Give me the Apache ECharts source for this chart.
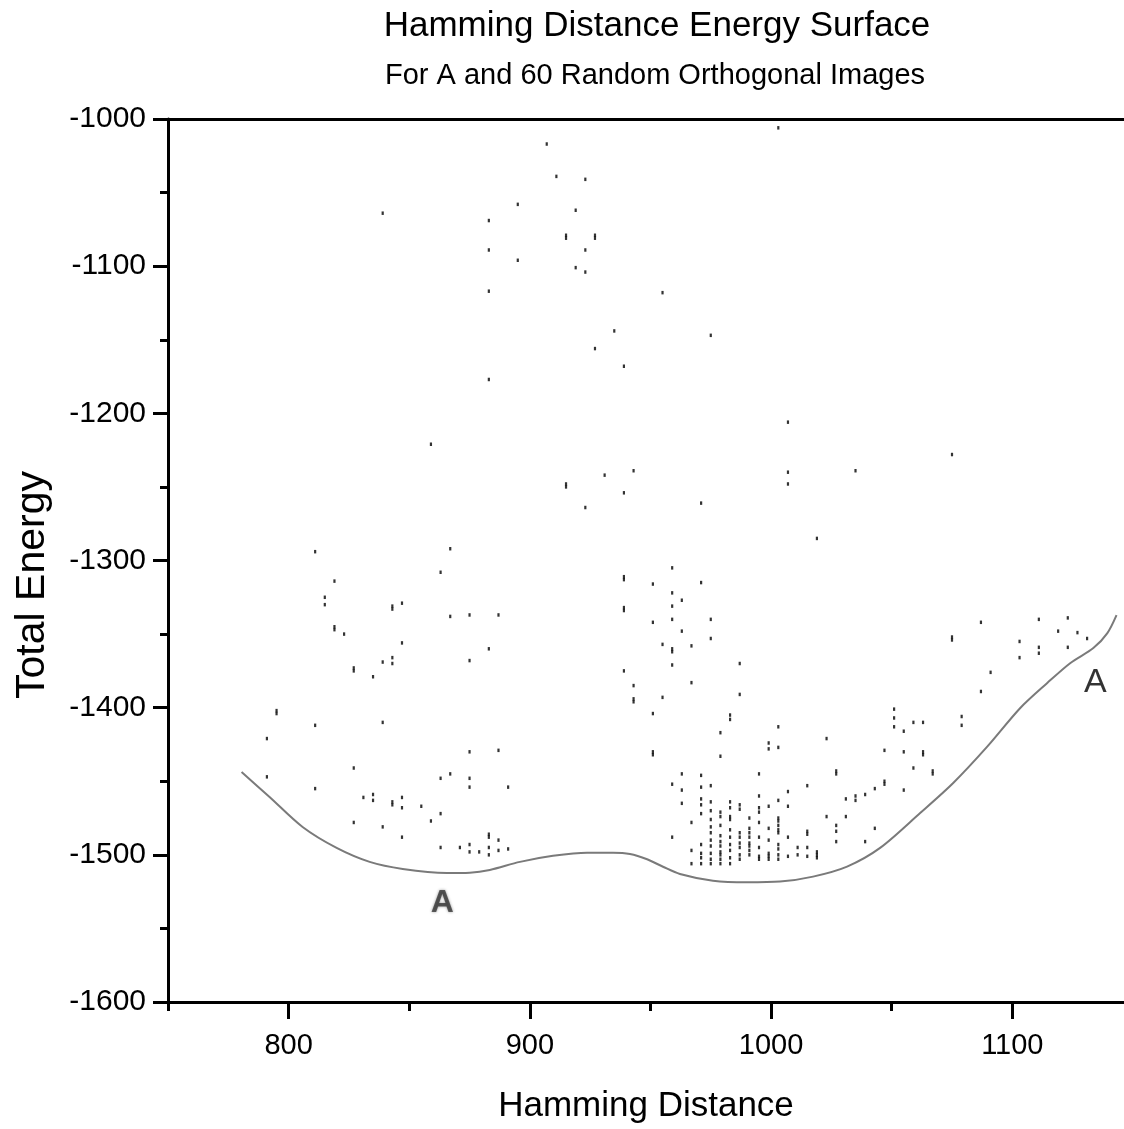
<!DOCTYPE html>
<html>
<head>
<meta charset="utf-8">
<script src="https://cdn.jsdelivr.net/npm/echarts@6/dist/echarts.min.js"></script>
<style>
html,body{margin:0;padding:0;background:#fff;overflow:hidden;}
#chart{width:1124px;height:1129px;}
</style>
</head>
<body>
<div id="chart"></div>
<script>
// ---- data ----
const titleText = 'Hamming Distance Energy Surface';
const subtitleText = 'For A and 60 Random Orthogonal Images';
const xAxisName = 'Hamming Distance';
const yAxisName = 'Total Energy';
const xTickLabels = [800, 900, 1000, 1100];
const xMinorTicks = [750, 850, 950, 1050];
const yTickLabels = [-1600, -1500, -1400, -1300, -1200, -1100, -1000];

const upperPoints = [
  [907,-1017],[911,-1039],[923,-1041],[895,-1058],[919,-1062],[839,-1064],[883,-1069],
  [915,-1079],[915,-1081],[927,-1079],[927,-1081],[883,-1089],[923,-1089],[895,-1096],
  [919,-1101],[923,-1104],[883,-1117],[935,-1144],[927,-1156],[883,-1177],[859,-1221],
  [915,-1248],[915,-1250],[931,-1242],[923,-1264],
  [1003,-1006],[955,-1118],[975,-1147],[939,-1168],[1007,-1206],[1075,-1228],[943,-1239],
  [1007,-1240],[1035,-1239],[1007,-1248],[939,-1254],[971,-1261]
];

const leftPoints = [
  [811,-1294],[867,-1292],[819,-1314],[863,-1308],[815,-1325],[815,-1330],[843,-1331],
  [843,-1333],[847,-1329],[867,-1338],[875,-1337],[887,-1337],[819,-1345],[819,-1347],
  [823,-1350],[847,-1356],[883,-1360],[827,-1373],[827,-1375],[835,-1379],[839,-1369],
  [843,-1366],[843,-1370],[875,-1368],[795,-1402],[795,-1404],[811,-1412],[839,-1410],
  [791,-1421],[875,-1430],[887,-1429],[827,-1441],[791,-1447],[863,-1448],[867,-1445],
  [875,-1448],[811,-1455],[875,-1454],[891,-1454],[831,-1461],[835,-1459],[835,-1463],
  [843,-1464],[843,-1466],[847,-1461],[847,-1468],[855,-1467],[863,-1472],[859,-1477],
  [827,-1478],[839,-1481],[847,-1488],[883,-1486],[883,-1488],[887,-1490],[863,-1495],
  [871,-1495],[875,-1493],[875,-1498],[879,-1498],[883,-1495],[883,-1500],[887,-1497],
  [891,-1496]
];

const rightPoints = [
  [1019,-1285],[939,-1311],[939,-1313],[959,-1305],[951,-1316],[971,-1315],[959,-1322],
  [963,-1327],[939,-1332],[939,-1334],[959,-1331],[959,-1340],[975,-1340],[951,-1342],
  [963,-1348],[975,-1353],[955,-1357],[959,-1360],[959,-1362],[967,-1358],[987,-1370],
  [959,-1371],[939,-1375],[943,-1385],[967,-1383],[943,-1394],[943,-1396],[955,-1393],
  [987,-1391],[951,-1404],[983,-1405],[983,-1408],[979,-1417],[1003,-1413],[999,-1424],
  [999,-1428],[1003,-1427],[1023,-1421],[951,-1430],[951,-1432],[979,-1433],
  [1051,-1401],[1051,-1407],[1051,-1413],[1055,-1416],[1059,-1410],[1063,-1410],
  [1075,-1352],[1075,-1354],[1087,-1342],[1091,-1376],[1087,-1389],[1079,-1406],
  [1079,-1412],[1103,-1355],[1103,-1366],[1111,-1340],[1111,-1359],[1111,-1363],
  [1119,-1348],[1123,-1339],[1123,-1359],[1127,-1349],[1131,-1353],
  [1047,-1429],[1055,-1430],[1063,-1430],[1063,-1432],[1059,-1441],[1067,-1443],
  [1067,-1445],[1047,-1450],[1047,-1452],[1055,-1456]
];

const clusterPoints = [
  [959,-1452],[959,-1488],
  [963,-1445],[963,-1456],[963,-1465],
  [967,-1478],[967,-1497],[967,-1506],
  [971,-1446],[971,-1454],[971,-1462],[971,-1466],[971,-1472],[971,-1493],[971,-1499],[971,-1502],[971,-1506],
  [975,-1453],[975,-1464],[975,-1470],[975,-1476],[975,-1481],[975,-1485],[975,-1490],[975,-1494],[975,-1499],[975,-1503],[975,-1506],
  [979,-1471],[979,-1474],[979,-1480],[979,-1487],[979,-1491],[979,-1494],[979,-1498],[979,-1500],[979,-1503],[979,-1506],
  [983,-1464],[983,-1468],[983,-1474],[983,-1476],[983,-1483],[983,-1488],[983,-1493],[983,-1497],[983,-1502],[983,-1506],
  [987,-1466],[987,-1469],[987,-1485],[987,-1488],[987,-1492],[987,-1495],[987,-1500],[987,-1503],
  [991,-1475],[991,-1482],[991,-1485],[991,-1488],[991,-1492],[991,-1494],[991,-1497],[991,-1500],
  [995,-1445],[995,-1460],[995,-1468],[995,-1471],[995,-1478],[995,-1488],[995,-1495],[995,-1501],[995,-1503],
  [999,-1467],[999,-1482],[999,-1490],[999,-1499],[999,-1501],[999,-1503],
  [1003,-1463],[1003,-1475],[1003,-1477],[1003,-1480],[1003,-1483],[1003,-1485],[1003,-1493],[1003,-1496],[1003,-1500],[1003,-1503],
  [1007,-1457],[1007,-1467],[1007,-1488],[1007,-1501],
  [1011,-1495],[1011,-1500],
  [1015,-1453],[1015,-1484],[1015,-1486],[1015,-1495],[1015,-1501],
  [1019,-1498],[1019,-1500],[1019,-1502],
  [1023,-1474],
  [1027,-1443],[1027,-1445],[1027,-1480],[1027,-1484],[1027,-1491],
  [1031,-1462],[1031,-1474],
  [1035,-1460],[1035,-1463],
  [1039,-1459],[1039,-1491],
  [1043,-1455],[1043,-1482]
];

const curveHamming = [780.5, 792.1, 805.8, 819.9, 833.6, 847.3, 865.6, 875.1, 883.4, 895.9, 909.6,
  923.7, 934.5, 941.5, 948.6, 955.2, 962.2, 975.9, 990, 1003.7, 1017.4, 1031.5, 1045.2, 1061.8,
  1075.5, 1089.6, 1103.3, 1114.5, 1124.1, 1133.6, 1139.4, 1143.2];
const curveEnergy = [-1443.7, -1460.7, -1481.1, -1495.3, -1504.8, -1509.6, -1512.3, -1512.1, -1510.3,
  -1504.8, -1500.7, -1498.5, -1498.5, -1499.4, -1503, -1508.1, -1513, -1517.6, -1518.7, -1518.2,
  -1514.8, -1508, -1495.3, -1471.6, -1451.2, -1426.5, -1400.2, -1383.2, -1369.6, -1359.5, -1349.3, -1337.1];

const markerLabels = ['A', 'A'];
const markerHamming = [1134.4, 863.7];
const markerEnergy = [-1383.2, -1532.7];

// ---- chart ----
const FONT = '"Liberation Sans", Arial, sans-serif';
const chart = echarts.init(document.getElementById('chart'), null, {renderer: 'canvas', width: 1124, height: 1129});
const allPoints = upperPoints.concat(leftPoints, rightPoints, clusterPoints);
const curveData = curveHamming.map((x, i) => [x, curveEnergy[i]]);
const plain = v => String(v);

const option = {
  animation: false,
  backgroundColor: '#ffffff',
  textStyle: {fontFamily: FONT, color: '#000'},
  graphic: [
    {type: 'text', x: 657, y: 26, style: {text: titleText, textAlign: 'center', textVerticalAlign: 'middle',
      fontFamily: FONT, fontSize: 35, fill: '#000'}},
    {type: 'text', x: 655, y: 76, style: {text: subtitleText, textAlign: 'center', textVerticalAlign: 'middle',
      fontFamily: FONT, fontSize: 29, fill: '#000'}},
    {type: 'text', x: 33, y: 585, rotation: Math.PI / 2, style: {text: yAxisName, textAlign: 'center',
      textVerticalAlign: 'middle', fontFamily: FONT, fontSize: 41, fill: '#000'}}
  ],
  grid: {left: 168, right: 0, top: 119, bottom: 127, containLabel: false},
  xAxis: [
    {
      type: 'value', min: 750, max: 1146.3, position: 'bottom', offset: 0,
      name: xAxisName, nameLocation: 'middle', nameGap: 87,
      nameTextStyle: {fontFamily: FONT, fontSize: 35, color: '#000'},
      axisLine: {show: true, onZero: false, lineStyle: {color: '#000', width: 3}},
      axisTick: {show: true, customValues: xTickLabels, length: 17, lineStyle: {color: '#000', width: 3}},
      axisLabel: {show: true, customValues: xTickLabels, formatter: plain, margin: 29,
        fontFamily: FONT, fontSize: 29, color: '#000'},
      splitLine: {show: false}
    },
    {
      type: 'value', min: 750, max: 1146.3, position: 'bottom', offset: 0,
      axisLine: {show: false, onZero: false},
      axisTick: {show: true, customValues: xMinorTicks, length: 9, lineStyle: {color: '#000', width: 3}},
      axisLabel: {show: false},
      splitLine: {show: false}
    },
    {
      type: 'value', min: 750, max: 1146.3, position: 'top', offset: 0,
      axisLine: {show: true, onZero: false, lineStyle: {color: '#000', width: 3}},
      axisTick: {show: false}, axisLabel: {show: false}, splitLine: {show: false}
    }
  ],
  yAxis: [
    {
      type: 'value', min: -1600, max: -1000, interval: 100, position: 'left',
      axisLine: {show: true, onZero: false, lineStyle: {color: '#000', width: 3}},
      axisTick: {show: true, length: 15, lineStyle: {color: '#000', width: 3}},
      minorTick: {show: true, splitNumber: 2, length: 8, lineStyle: {color: '#000', width: 3}},
      axisLabel: {show: true, customValues: yTickLabels, formatter: plain, margin: 22,
        fontFamily: FONT, fontSize: 30, color: '#000'},
      splitLine: {show: false}, minorSplitLine: {show: false}
    }
  ],
  series: [
    {
      name: 'Energy Surface', type: 'line', xAxisIndex: 0, yAxisIndex: 0,
      data: curveData, smooth: 0.3, showSymbol: false, symbol: 'none',
      lineStyle: {color: '#7a7a7a', width: 2}, z: 2
    },
    {
      name: 'Images', type: 'scatter', xAxisIndex: 0, yAxisIndex: 0,
      data: allPoints, symbol: 'rect', symbolSize: [2.2, 3.5],
      itemStyle: {color: '#000'}, z: 3
    },
    {
      name: 'Labels', type: 'scatter', xAxisIndex: 0, yAxisIndex: 0,
      symbolSize: 0, silent: true, z: 4,
      data: markerLabels.map((t, i) => ({
        name: t, value: [markerHamming[i], markerEnergy[i]],
        label: i === 0
          ? {show: true, position: 'inside', formatter: '{b}', fontFamily: FONT, fontSize: 34, color: '#000'}
          : {show: true, position: 'inside', formatter: '{b}', fontFamily: FONT, fontSize: 32, fontWeight: 'bold',
             color: 'rgba(20,20,20,0.8)', textShadowColor: 'rgba(0,0,0,0.6)', textShadowBlur: 3}
      }))
    }
  ]
};
chart.setOption(option);
</script>
</body>
</html>
